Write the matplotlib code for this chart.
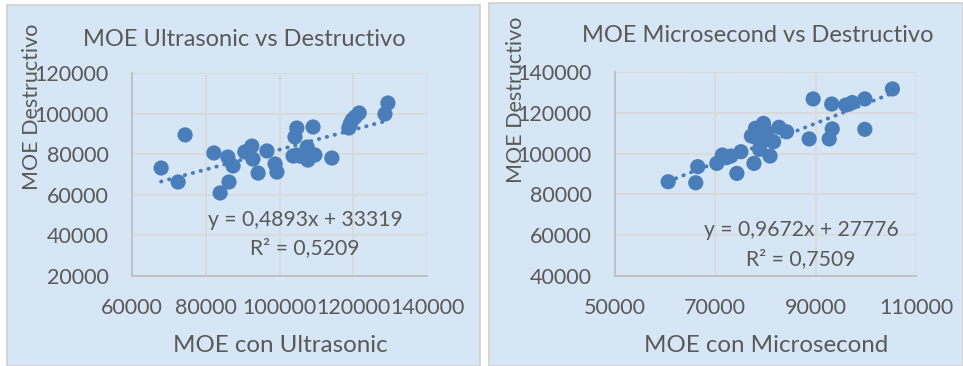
import matplotlib
matplotlib.use("Agg")
import matplotlib.pyplot as plt
from matplotlib.patches import Rectangle
import numpy as np

# Ultrasonic vs destructive MOE
ultra_x = [67900, 72500, 74400, 82200, 83900, 86000, 86300, 87400, 90600, 92500,
           92800, 94200, 96600, 98800, 99300, 103700, 104200, 104700, 107500, 106900,
           107700, 109100, 109600, 114200, 118800, 119700, 120500, 121600, 128600, 129400,
           104700, 105800, 108300, 119200]
ultra_y = [73200, 66300, 89500, 80600, 60900, 78600, 66300, 74200, 81100, 84000,
           77600, 70700, 81600, 75200, 71200, 79100, 88500, 92900, 83500, 79600,
           77100, 93400, 79600, 78100, 92900, 96800, 98300, 100300, 99800, 105200,
           79600, 79000, 80000, 95000]

# Microsecond vs destructive MOE
micro_x = [60600, 66100, 66500, 70300, 71400, 73100, 74300, 75100, 77700, 77200,
           78000, 79600, 78800, 80000, 80900, 81600, 82700, 84200, 88700, 89500,
           93200, 93300, 92700, 96000, 97300, 99800, 99800, 105300, 79300, 80300,
           78300, 72200]
micro_y = [86200, 85700, 93600, 95200, 99300, 98800, 90300, 100900, 95200, 108600,
           112400, 114800, 102100, 106700, 98800, 105800, 112900, 110700, 107200, 126800,
           124300, 112100, 107200, 123800, 125000, 126800, 111900, 131700, 110000, 110700,
           107600, 98000]

panels = [
    dict(x=ultra_x, y=ultra_y, slope=0.4893, icpt=33319,
         eq="y = 0,4893x + 33319", r2="R² = 0,5209",
         title="MOE Ultrasonic vs Destructivo", xlabel="MOE con Ultrasonic",
         ylabel="MOE Destructivo",
         xticks=[60000, 80000, 100000, 120000, 140000],
         yticks=[20000, 40000, 60000, 80000, 100000, 120000]),
    dict(x=micro_x, y=micro_y, slope=0.9672, icpt=27776,
         eq="y = 0,9672x + 27776", r2="R² = 0,7509",
         title="MOE Microsecond vs Destructivo", xlabel="MOE con Microsecond",
         ylabel="MOE Destructivo",
         xticks=[50000, 70000, 90000, 110000],
         yticks=[40000, 60000, 80000, 100000, 120000, 140000]),
]

W, H = 963, 366
DPI = 100
plt.rcParams['font.family'] = ['Lato', 'DejaVu Sans']
fig = plt.figure(figsize=(W / DPI, H / DPI), dpi=DPI)
fig.patch.set_facecolor("white")

BG = "#D6E6F4"
GRID = "#D9D9D9"
TXT = "#595959"
BLUE = "#4A7EBB"


def fx(px):
    return px / W


def fy(py):
    return 1 - py / H


# chart-area boxes (pixel layout)
boxes = [(7, 5, 480, 366), (489, 3, 963, 366)]
plot_boxes = [(132, 73, 427, 276), (615, 72, 916, 276)]
layout = [
    dict(title=(244, 40), xlabel=(280, 345), ylabel=(32, 107), eq=(305, 220), r2=(305, 248)),
    dict(title=(758, 35), xlabel=(766, 346), ylabel=(516, 100), eq=(801, 230), r2=(801, 259)),
]

for (x0, y0, x1, y1) in boxes:
    fig.patches.append(Rectangle((fx(x0), fy(y1)), fx(x1 - x0), (y1 - y0) / H,
                                 transform=fig.transFigure, facecolor=BG,
                                 edgecolor="#D0D0D0", linewidth=1.2, zorder=-5))

for p, (x0, y0, x1, y1), lay in zip(panels, plot_boxes, layout):
    ax = fig.add_axes([fx(x0), fy(y1), fx(x1 - x0), (y1 - y0) / H])
    ax.set_zorder(2)
    ax.set_facecolor("none")
    ax.set_xlim(p["xticks"][0], p["xticks"][-1])
    ax.set_ylim(p["yticks"][0], p["yticks"][-1])
    ax.set_xticks(p["xticks"])
    ax.set_yticks(p["yticks"])
    ax.set_xticklabels([str(v) for v in p["xticks"]])
    ax.set_yticklabels([str(v) for v in p["yticks"]])
    ax.tick_params(length=0, labelsize=15.5, colors=TXT)
    ax.tick_params(axis="x", pad=16)
    ax.tick_params(axis="y", pad=17)
    ax.grid(True, color=GRID, linewidth=1.3)
    ax.set_axisbelow(True)
    for side in ["top", "right"]:
        ax.spines[side].set_visible(False)
    for side in ["left", "bottom"]:
        ax.spines[side].set_color("#BFBFBF")
        ax.spines[side].set_linewidth(1.3)

    xs = np.array(p["x"], dtype=float)
    ys = np.array(p["y"], dtype=float)
    ax.scatter(xs, ys, s=120, color=BLUE, edgecolors="none", zorder=3, clip_on=False)

    tx = np.array([xs.min(), xs.max()])
    ax.plot(tx, p["slope"] * tx + p["icpt"], color=BLUE, linewidth=2.8,
            linestyle=(0, (0.1, 2.0)), dash_capstyle="round", zorder=4)

    fig.text(fx(lay["eq"][0]), fy(lay["eq"][1]), p["eq"], ha="center", va="center",
             fontsize=15.2, color=TXT, zorder=5)
    fig.text(fx(lay["r2"][0]), fy(lay["r2"][1]), p["r2"], ha="center", va="center",
             fontsize=15.2, color=TXT, zorder=5)
    fig.text(fx(lay["title"][0]), fy(lay["title"][1]), p["title"], ha="center", va="center",
             fontsize=17, color=TXT, zorder=5)
    fig.text(fx(lay["xlabel"][0]), fy(lay["xlabel"][1]), p["xlabel"], ha="center", va="center",
             fontsize=17.4, color=TXT, zorder=5)
    fig.text(fx(lay["ylabel"][0]), fy(lay["ylabel"][1]), p["ylabel"], ha="center", va="center",
             rotation=90, fontsize=15.5, color=TXT, zorder=5)

fig.savefig("out.png", dpi=DPI)
